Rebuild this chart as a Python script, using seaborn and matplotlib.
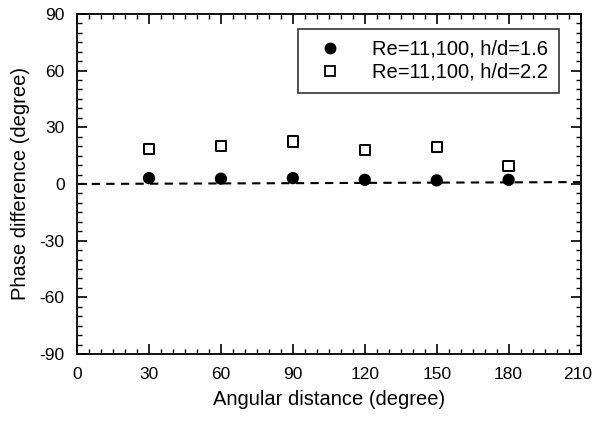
import matplotlib
matplotlib.use("Agg")
import matplotlib.pyplot as plt
import matplotlib.transforms as mtransforms
from matplotlib.ticker import MultipleLocator
from matplotlib.lines import Line2D
import seaborn as sns
import pandas as pd

angles = [30, 60, 90, 120, 150, 180]
phase_h16 = [3.1, 2.8, 3.1, 2.2, 1.9, 2.2]
phase_h22 = [18.6, 20.0, 22.5, 18.1, 19.5, 9.4]
label_h16 = "Re=11,100, h/d=1.6"
label_h22 = "Re=11,100, h/d=2.2"
fit_x = [0, 210]
fit_y = [0.0, 1.0]
x_ticks = [0, 30, 60, 90, 120, 150, 180, 210]
y_ticks = [-90, -60, -30, 0, 30, 60, 90]

sns.set_style("ticks")
plt.rcParams["font.family"] = ["Liberation Sans", "DejaVu Sans"]
plt.rcParams["axes.unicode_minus"] = False
plt.rcParams["text.color"] = "black"
plt.rcParams["axes.labelcolor"] = "black"
plt.rcParams["xtick.color"] = "black"
plt.rcParams["ytick.color"] = "black"

df = pd.DataFrame({
    "angle": angles * 2,
    "phase": phase_h16 + phase_h22,
    "case": [label_h16] * len(angles) + [label_h22] * len(angles),
})

fig = plt.figure(figsize=(5.93, 4.21), dpi=100)
ax = fig.add_axes([0.130, 0.159, 0.849, 0.808])

sns.lineplot(x=fit_x, y=fit_y, ax=ax, color="black", linestyle=(0, (4, 3)),
             linewidth=1.5, legend=False)
sns.scatterplot(data=df, x="angle", y="phase", style="case",
                markers={label_h16: "o", label_h22: "s"},
                hue="case", palette={label_h16: "black", label_h22: "black"},
                ax=ax, s=55, legend=False, zorder=3)
pts = ax.collections[-1]
pts.set_facecolors(["black"] * len(angles) + ["white"] * len(angles))
pts.set_edgecolors("black")
pts.set_linewidths(1.4)

handles = [
    Line2D([], [], marker="o", color="black", linestyle="none", markersize=7.5),
    Line2D([], [], marker="s", markerfacecolor="white", markeredgecolor="black",
           markeredgewidth=1.3, linestyle="none", markersize=6.5),
]
leg = ax.legend(handles, [label_h16, label_h22], loc="upper right",
                bbox_to_anchor=(0.965, 0.968), fontsize=14.5, frameon=True,
                fancybox=False, edgecolor="black", handletextpad=1.1,
                borderpad=0.55, labelspacing=0.2, handlelength=2.0,
                borderaxespad=0.2)
leg.get_frame().set_linewidth(1.2)
for t in leg.get_texts():
    t.set_color("black")

ax.set_xlim(0, 210)
ax.set_ylim(-90, 90)
ax.set_xticks(x_ticks)
ax.set_yticks(y_ticks)
ax.xaxis.set_minor_locator(MultipleLocator(5))
ax.yaxis.set_minor_locator(MultipleLocator(5))
ax.tick_params(which="both", direction="in", top=True, right=True,
               colors="black", labelcolor="black", labelsize=12.5)
ax.tick_params(which="major", length=7, width=1.2, pad=9)
ax.tick_params(which="minor", length=3.5, width=1.0)
for sp in ax.spines.values():
    sp.set_linewidth(1.3)
    sp.set_color("black")

ax.set_xlabel("Angular distance (degree)", fontsize=14.5, labelpad=6, color="black")
ax.set_ylabel("Phase difference (degree)", fontsize=14.5, labelpad=7, color="black")

# keep the last x tick label inside the figure
shift = mtransforms.ScaledTranslation(-3 / 100, 0, fig.dpi_scale_trans)
last = ax.get_xticklabels()[-1]
last.set_transform(last.get_transform() + shift)

fig.savefig("out.png", dpi=100)
